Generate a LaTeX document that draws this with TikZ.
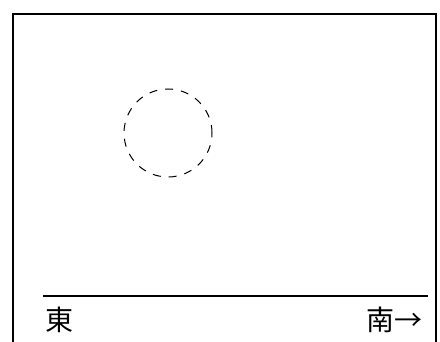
\documentclass[tikz,border=0pt]{standalone}
\usepackage{fontspec}
\newfontfamily\cjk{Noto Sans CJK JP}
\begin{document}
\begin{tikzpicture}[x=1pt,y=-1pt,
  frame/.style={line width=2pt},
  label/.style={font=\cjk\fontsize{28}{28}\selectfont, inner sep=0pt}]
\useasboundingbox (0,0) rectangle (440,342);
\coordinate (bl) at (13,342);
\coordinate (tl) at (13,14);
\coordinate (tr) at (436,14);
\coordinate (br) at (436,342);
\draw[frame] (bl) -- (tl) -- (tr) -- (br);
\coordinate (hl) at (43,296);
\coordinate (hr) at (428,296);
\draw[frame] (hl) -- (hr);
\node[circle, draw, dash pattern=on 8pt off 8pt, minimum size=88pt, inner sep=0pt, line width=1pt] (c) at (168,133) {};
\node[label, anchor=west] (e) at (45,320) {東};
\node[label, anchor=east] (s) at (423,320) {南→};
\end{tikzpicture}
\end{document}
